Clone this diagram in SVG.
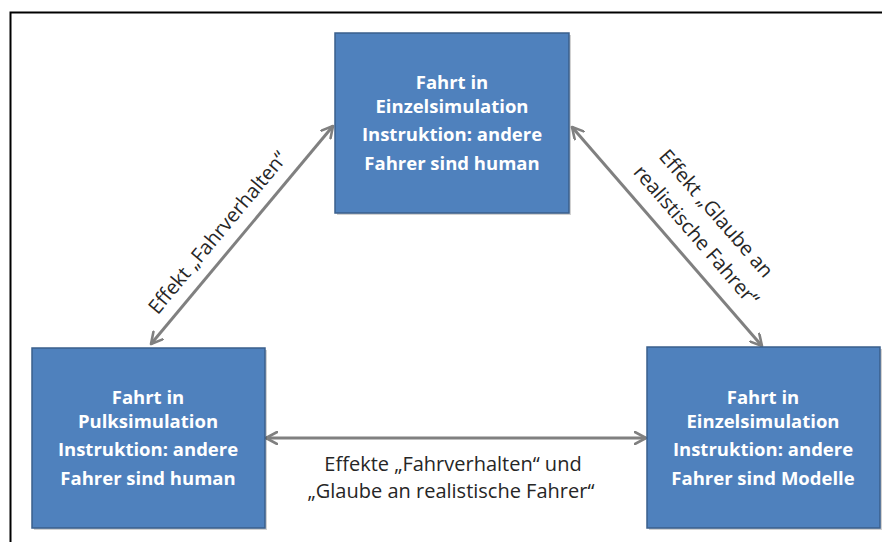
<svg xmlns="http://www.w3.org/2000/svg" width="882" height="542" viewBox="0 0 882 542">
  <style>
    .box { fill: #4f81bd; stroke: #3a5f8c; stroke-width: 1.5; }
    .shadow { fill: #000; opacity: 0.18; }
    .nt { font-family: "Open Sans", Lato, "Liberation Sans", sans-serif; font-weight: bold; font-size: 18.5px; fill: #ffffff; text-anchor: middle; font-variant-ligatures: none; }
    .lbl { font-family: "Open Sans", Lato, "Liberation Sans", sans-serif; font-size: 20px; fill: #262626; text-anchor: middle; font-variant-ligatures: none; }
    .conn { stroke: #808080; stroke-width: 3; fill: none; }
  </style>
  <defs>
    <marker id="head" viewBox="0 0 14 14" refX="12" refY="7" markerWidth="14" markerHeight="14" markerUnits="userSpaceOnUse" orient="auto-start-reverse">
      <path d="M1,1 L12,7 L1,13" fill="none" stroke="#808080" stroke-width="2.6" stroke-linecap="round" stroke-linejoin="round"/>
    </marker>
  </defs>

  <rect x="0" y="0" width="882" height="542" fill="#ffffff"/>
  <!-- outer frame -->
  <path d="M10.5,542 L10.5,12.5 L882,12.5" fill="none" stroke="#000" stroke-width="2"/>

  <g id="connectors">
    <line class="conn" x1="151" y1="344" x2="333" y2="126" marker-start="url(#head)" marker-end="url(#head)"/>
    <line class="conn" x1="572" y1="127" x2="762" y2="346" marker-start="url(#head)" marker-end="url(#head)"/>
    <line class="conn" x1="266" y1="438" x2="646" y2="438" marker-start="url(#head)" marker-end="url(#head)"/>
    <text class="lbl" transform="translate(223,237) rotate(-50.2)">Effekt „Fahrverhalten“</text>
    <text class="lbl" transform="translate(711,218) rotate(49)">Effekt „Glaube an</text>
    <text class="lbl" transform="translate(691,240) rotate(49)">realistische Fahrer“</text>
    <text class="lbl" x="453" y="471">Effekte „Fahrverhalten“ und</text>
    <text class="lbl" x="451" y="498">„Glaube an realistische Fahrer“</text>
  </g>

  <g id="node-einzel-human">
    <rect class="shadow" x="337" y="35" width="234" height="180"/>
    <rect class="box" x="335" y="33" width="234" height="180"/>
    <text class="nt" x="452" y="89">Fahrt in</text>
    <text class="nt" x="452" y="113">Einzelsimulation</text>
    <text class="nt" x="452" y="141">Instruktion: andere</text>
    <text class="nt" x="452" y="170">Fahrer sind human</text>
  </g>

  <g id="node-puls-human">
    <rect class="shadow" x="34" y="350" width="233" height="180"/>
    <rect class="box" x="32" y="348" width="233" height="180"/>
    <text class="nt" x="148" y="404">Fahrt in</text>
    <text class="nt" x="148" y="428">Pulksimulation</text>
    <text class="nt" x="148" y="456">Instruktion: andere</text>
    <text class="nt" x="148" y="485">Fahrer sind human</text>
  </g>

  <g id="node-einzel-modelle">
    <rect class="shadow" x="649" y="349" width="233" height="181"/>
    <rect class="box" x="647" y="347" width="233" height="181"/>
    <text class="nt" x="763" y="404">Fahrt in</text>
    <text class="nt" x="763" y="428">Einzelsimulation</text>
    <text class="nt" x="763" y="456">Instruktion: andere</text>
    <text class="nt" x="763" y="485">Fahrer sind Modelle</text>
  </g>
</svg>
